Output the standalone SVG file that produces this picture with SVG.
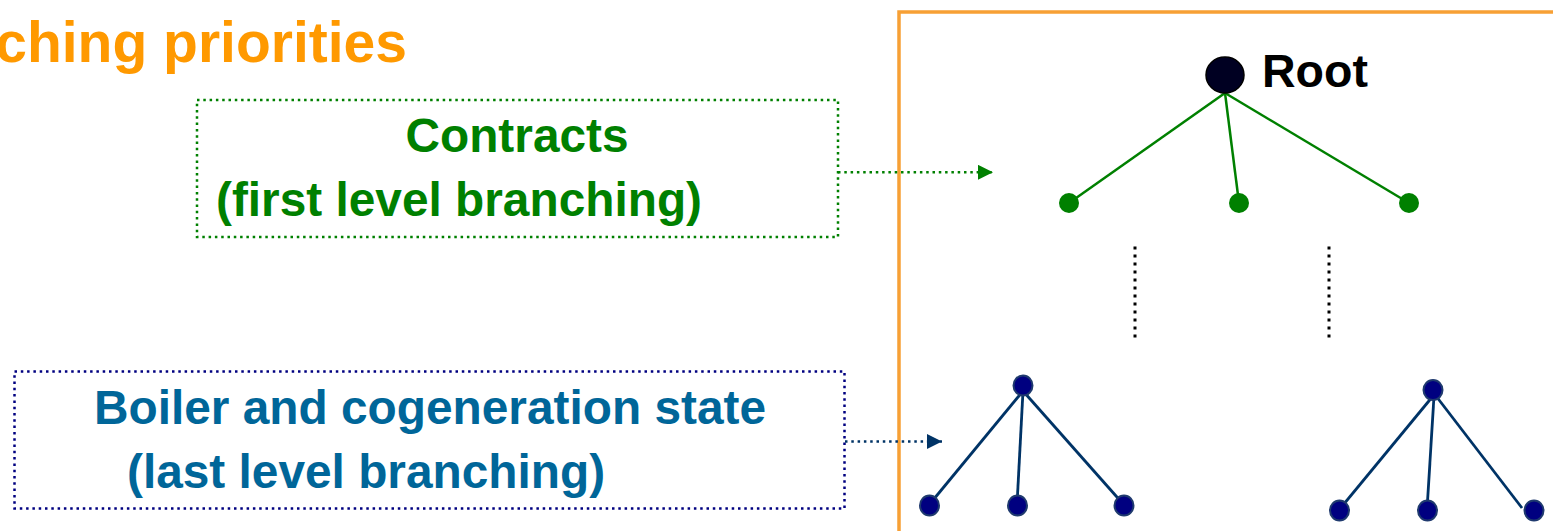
<svg xmlns="http://www.w3.org/2000/svg" width="1553" height="531" viewBox="0 0 1553 531">
<defs>
<style>
text{font-family:"Liberation Sans",Arial,sans-serif;font-weight:bold}
.title{fill:#ff9900;font-size:57px}
.green{fill:#008000;font-size:47.8px}
.blue{fill:#006699;font-size:47.8px}
.frame{fill:none;stroke:#f7a035;stroke-width:3.5}
.gbox{fill:none;stroke:#008000;stroke-width:2.5;stroke-dasharray:2.5 3.8}
.bbox{fill:none;stroke:#000080;stroke-width:2.5;stroke-dasharray:2.5 3.8}
.garrow{fill:none;stroke:#008000;stroke-width:2.5;stroke-dasharray:2.5 3.8}
.barrow{fill:none;stroke:#003366;stroke-width:2.5;stroke-dasharray:2.5 3.8}
.gline{stroke:#008000;stroke-width:2.5}
.bline{stroke:#003366;stroke-width:2.8}
.gnode{fill:#008000}
.bnode{fill:#000080;stroke:#1f3a6e;stroke-width:2}
.dots{stroke:#000;stroke-width:3;stroke-dasharray:3 5}
</style>
<marker id="ag" markerWidth="16" markerHeight="16" refX="15" refY="7.5" orient="auto" markerUnits="userSpaceOnUse">
<path d="M0,0 L15,7.5 L0,15 Z" fill="#008000"/>
</marker>
<marker id="ab" markerWidth="16" markerHeight="16" refX="15" refY="7.5" orient="auto" markerUnits="userSpaceOnUse">
<path d="M0,0 L15,7.5 L0,15 Z" fill="#003366"/>
</marker>
</defs>
<rect width="1553" height="531" fill="#fff"/>
<g id="title"><text class="title" x="407" y="62" text-anchor="end">ching priorities</text></g>
<g id="frame"><path class="frame" d="M899,531 L899,12 L1553,12"/></g>
<g id="contracts">
<rect class="gbox" x="197" y="100" width="641" height="137"/>
<text class="green" x="517" y="152" text-anchor="middle">Contracts</text>
<text class="green" x="216" y="216">(first level branching)</text>
</g>
<g id="boiler">
<rect class="bbox" x="14.5" y="371.5" width="830" height="137"/>
<text class="blue" x="430" y="424" text-anchor="middle">Boiler and cogeneration state</text>
<text class="blue" x="127" y="488">(last level branching)</text>
</g>
<g id="connectors">
<line class="garrow" x1="838" y1="172.3" x2="993" y2="172.3" marker-end="url(#ag)"/>
<line class="barrow" x1="845" y1="441.5" x2="942" y2="441.5" marker-end="url(#ab)"/>
<line class="gline" x1="1225" y1="93" x2="1069" y2="203"/>
<line class="gline" x1="1225" y1="93" x2="1239" y2="203"/>
<line class="gline" x1="1225" y1="93" x2="1409" y2="203"/>
<line class="dots" x1="1135" y1="246.5" x2="1135" y2="340"/>
<line class="dots" x1="1329" y1="246.5" x2="1329" y2="340"/>
<line class="bline" x1="1023" y1="391" x2="929" y2="505"/>
<line class="bline" x1="1023" y1="391" x2="1017" y2="505"/>
<line class="bline" x1="1023" y1="391" x2="1124" y2="505"/>
<line class="bline" x1="1433" y1="396" x2="1339" y2="510"/>
<line class="bline" x1="1434" y1="396" x2="1427" y2="510"/>
<line class="bline" x1="1436" y1="396" x2="1522" y2="508"/>
</g>
<g id="root">
<ellipse cx="1225" cy="75" rx="19" ry="18" fill="#000022" stroke="#000" stroke-width="1.5"/>
<text x="1262" y="87" font-size="46.5" fill="#000">Root</text>
</g>
<g id="contract-nodes">
<circle class="gnode" cx="1069" cy="203" r="10"/>
<circle class="gnode" cx="1239" cy="203" r="10"/>
<circle class="gnode" cx="1409" cy="203" r="10"/>
</g>
<g id="tree-left">
<ellipse class="bnode" cx="1023" cy="385.5" rx="9.5" ry="10"/>
<ellipse class="bnode" cx="929.5" cy="505.5" rx="9.5" ry="10"/>
<ellipse class="bnode" cx="1017.5" cy="505.5" rx="9.5" ry="10"/>
<ellipse class="bnode" cx="1124" cy="505.5" rx="9.5" ry="10"/>
</g>
<g id="tree-right">
<ellipse class="bnode" cx="1433" cy="390" rx="9.5" ry="10"/>
<ellipse class="bnode" cx="1339.5" cy="510.5" rx="9.5" ry="10"/>
<ellipse class="bnode" cx="1427.5" cy="510.5" rx="9.5" ry="10"/>
<ellipse class="bnode" cx="1534" cy="510.5" rx="9.5" ry="10"/>
</g>
</svg>
